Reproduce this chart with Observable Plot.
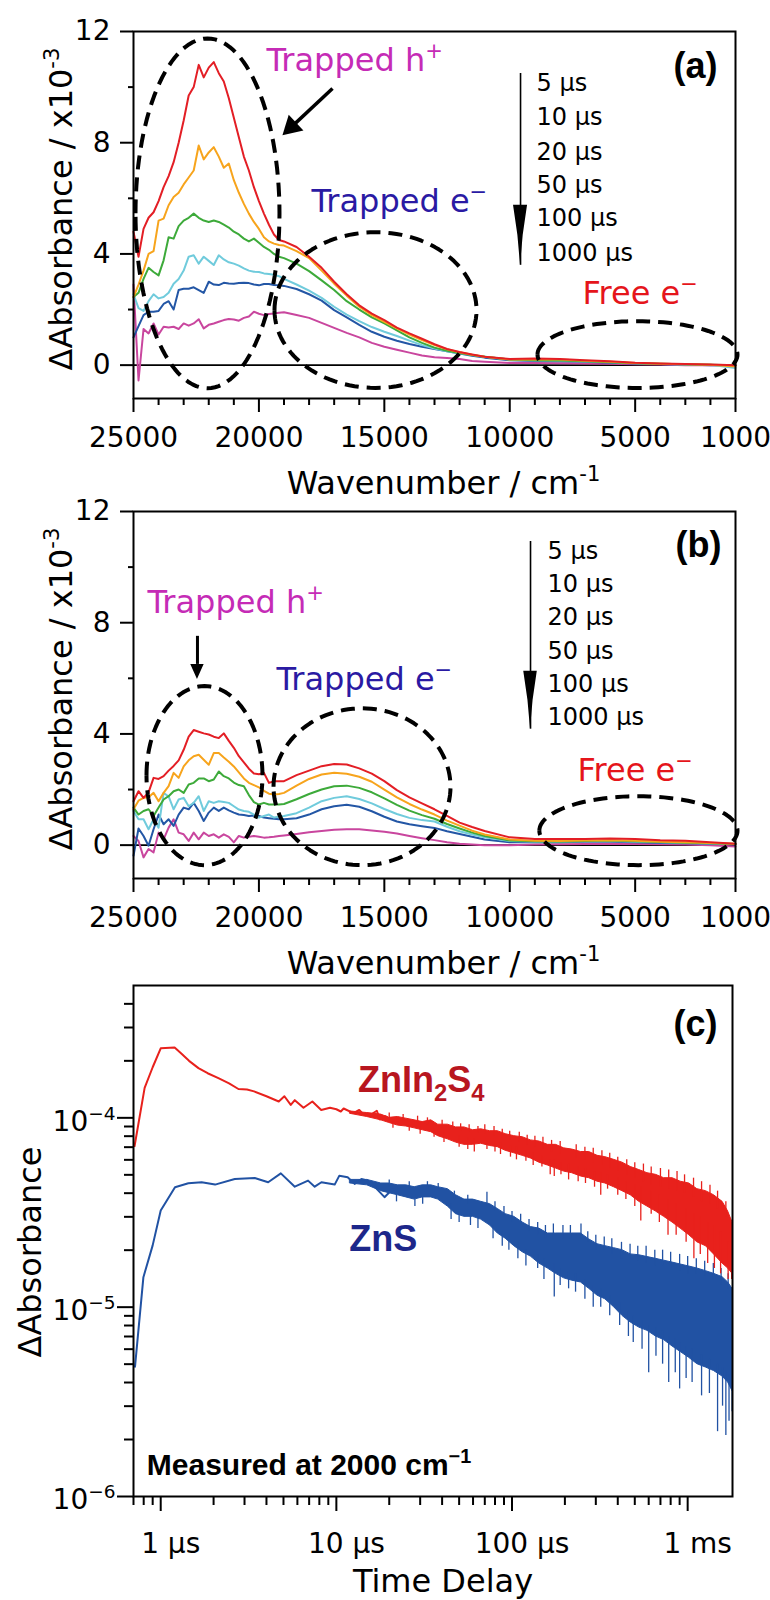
<!DOCTYPE html>
<html><head><meta charset="utf-8">
<script src="https://cdn.jsdelivr.net/npm/d3@7"></script>
<script src="https://cdn.jsdelivr.net/npm/@observablehq/plot@0.6"></script>
<style>
body{margin:0;background:#fff;}
#wrap{position:relative;width:770px;height:1600px;overflow:hidden;background:#fff;}
#wrap svg{position:absolute;left:0;overflow:visible;}
</style></head><body><div id="wrap"></div>
<script>
// ---------- shared axes / categories ----------
const wavenumbers = [25000,24800,24600,24400,24200,24000,23800,23600,23400,23200,23000,22800,22600,22400,22200,22000,21800,21600,21400,21200,21000,20800,20600,20400,20200,20000,19800,19600,19400,19200,19000,
  18500,18000,17500,17000,16500,16000,15500,15000,14500,14000,13500,13000,12500,12000,11500,11000,
  10000,9000,8000,7000,6000,5000,4000,3000,2000,1000];
const delayLabels = ["5 μs","10 μs","20 μs","50 μs","100 μs","1000 μs"];
const delayColors = ["#e31e25","#f7a41c","#3daa3a","#70cbdc","#2356a5","#c9469e"];
const xMajorAB = [25000,20000,15000,10000,5000,1000];
const xMinorAB = [24000,23000,22000,21000,19000,18000,17000,16000,14000,13000,12000,11000,9000,8000,7000,6000,4000,3000,2000];
const yMajorAB = [0,4,8,12];
const yMinorAB = [2,6,10];

// ---------- panel (a): ZnIn2S4 spectra, ΔAbs ×1e-3 ----------
const a5us   = [4.8,3.9,4.9,5.3,5.5,5.9,6.4,6.8,7.3,8.0, 8.8,9.7,10.0,10.8,10.35,10.7,10.9,10.5,10.2,9.6, 8.9,8.2,7.5,7.0,6.4,5.9,5.45,5.05,4.7,4.5, 4.45,
  4.25,3.9,3.5,3.0,2.55,2.15,1.85,1.62,1.35,1.14,0.95,0.75,0.58,0.47,0.38,0.3,
  0.22,0.24,0.22,0.18,0.14,0.09,0.06,0.04,0.02,0.0];
const a10us  = [2.45,2.9,3.4,4.0,4.1,5.2,5.27,5.75,6.05,6.2, 6.5,6.75,7.0,7.9,7.4,7.65,7.84,7.5,7.1,7.25, 6.65,6.2,5.8,5.45,5.15,4.9,4.6,4.45,4.37,4.32, 4.3,
  4.1,3.85,3.4,2.93,2.5,2.1,1.8,1.56,1.32,1.1,0.9,0.72,0.57,0.46,0.37,0.3,
  0.2,0.2,0.2,0.16,0.12,0.08,0.05,0.03,0.01,-0.05];
const a20us  = [2.45,2.6,3.1,3.5,3.35,3.23,3.77,4.6,4.55,5.0, 5.2,5.3,5.45,5.3,5.2,5.15,5.2,5.15,5.05,4.95, 4.8,4.7,4.55,4.45,4.55,4.4,4.25,4.15,4.0,3.9, 3.85,
  3.65,3.38,3.05,2.7,2.3,2.0,1.72,1.5,1.25,1.0,0.8,0.63,0.52,0.44,0.36,0.3,
  0.2,0.18,0.17,0.14,0.1,0.07,0.05,0.03,0.01,0.0];
const a50us  = [2.55,2.05,1.95,2.3,2.55,2.4,2.45,2.6,2.93,3.1, 3.4,3.9,3.95,3.65,3.9,3.75,3.6,3.95,3.8,3.7, 3.65,3.58,3.48,3.4,3.36,3.35,3.3,3.28,3.25,3.2, 3.1,
  2.9,2.68,2.42,2.1,1.82,1.58,1.37,1.2,1.05,0.88,0.72,0.6,0.5,0.43,0.36,0.3,
  0.2,0.17,0.16,0.13,0.1,0.07,0.04,0.02,0.01,-0.1];
const a100us = [1.0,1.4,1.8,1.92,1.92,1.95,2.2,2.3,2.0,2.7, 2.75,2.75,2.8,2.7,2.6,3.0,2.9,2.88,2.96,2.94, 2.93,2.95,2.96,2.95,2.9,2.87,2.92,2.92,2.88,2.87, 2.85,
  2.74,2.55,2.32,1.98,1.72,1.45,1.2,1.02,0.88,0.76,0.66,0.58,0.5,0.42,0.34,0.27,
  0.18,0.15,0.14,0.12,0.09,0.06,0.04,0.02,0.0,0.0];
const a1000us= [2.9,-0.55,1.3,1.14,1.5,1.1,1.38,1.35,1.38,1.3, 1.5,1.42,1.5,1.65,1.32,1.45,1.5,1.56,1.62,1.66, 1.64,1.6,1.7,1.75,1.92,1.85,1.8,1.84,1.86,1.88, 1.9,
  1.8,1.7,1.52,1.34,1.16,1.0,0.8,0.66,0.55,0.45,0.35,0.28,0.26,0.22,0.15,0.12,
  0.08,0.08,0.07,0.06,0.05,0.03,0.02,0.0,0.0,0.0];

// ---------- panel (b): ZnS spectra, ΔAbs ×1e-3 ----------
const b5us   = [1.58,1.94,1.7,1.9,2.42,2.38,2.48,2.68,2.85,3.05, 3.43,3.9,4.14,4.08,4.02,3.98,3.9,3.85,4.02,3.75, 3.5,3.2,2.98,2.75,2.58,2.55,2.6,2.24,2.3,2.3, 2.3,
  2.52,2.68,2.84,2.92,2.9,2.76,2.57,2.3,1.98,1.72,1.5,1.29,1.05,0.81,0.65,0.51,
  0.28,0.22,0.22,0.22,0.24,0.22,0.18,0.16,0.1,0.05];
const b10us  = [1.29,1.6,1.7,1.72,1.88,1.58,1.88,2.12,2.6,2.42, 2.83,3.05,3.2,3.25,3.07,2.89,3.31,3.31,3.15,3.0, 2.83,2.62,2.4,2.24,2.16,2.08,1.95,1.85,1.82,1.84, 1.88,
  2.14,2.38,2.54,2.6,2.57,2.46,2.28,2.0,1.72,1.48,1.28,1.1,0.88,0.7,0.52,0.38,
  0.2,0.16,0.15,0.17,0.18,0.16,0.12,0.1,0.08,0.05];
const b20us  = [1.35,1.1,1.23,1.29,1.05,1.35,1.64,1.76,1.94,2.0, 1.88,2.18,2.24,2.4,2.4,2.3,2.36,2.65,2.48,2.4, 2.25,2.16,2.12,1.8,1.55,1.46,1.52,1.46,1.46,1.46, 1.48,
  1.65,1.84,2.0,2.12,2.14,2.06,1.9,1.68,1.45,1.24,1.08,0.95,0.76,0.6,0.45,0.33,
  0.17,0.14,0.13,0.15,0.17,0.14,0.11,0.09,0.07,0.04];
const b50us  = [1.23,0.93,0.93,0.57,0.93,0.63,1.88,1.75,1.29,1.64, 1.7,1.4,1.52,1.76,1.23,1.58,1.52,1.58,1.55,1.52, 1.4,1.28,1.23,1.2,1.1,0.99,1.05,1.1,0.99,1.02, 1.05,
  1.15,1.35,1.58,1.7,1.76,1.66,1.5,1.3,1.12,0.98,0.9,0.85,0.66,0.5,0.38,0.28,
  0.15,0.12,0.12,0.14,0.15,0.12,0.1,0.08,0.06,0.04];
const b100us = [-0.38,0.6,0.33,-0.02,0.57,1.1,0.75,0.93,0.69,1.1, 1.35,1.29,1.52,1.23,0.87,1.17,1.35,1.23,1.35,1.25, 1.17,1.1,1.08,1.05,1.07,1.05,0.99,0.97,0.95,0.93, 0.93,
  0.97,1.1,1.29,1.4,1.45,1.38,1.22,1.02,0.85,0.75,0.68,0.62,0.5,0.4,0.3,0.2,
  0.1,0.1,0.1,0.12,0.12,0.1,0.08,0.07,0.05,0.03];
const b1000us= [0.33,0.15,-0.44,-0.14,-0.26,0.45,0.21,0.63,0.93,0.45, 0.39,0.15,0.45,0.21,0.45,0.33,0.39,0.27,0.39,0.3, 0.1,0.33,0.27,0.3,0.33,0.3,0.27,0.28,0.3,0.33, 0.35,
  0.4,0.46,0.51,0.55,0.57,0.57,0.53,0.48,0.42,0.33,0.25,0.18,0.1,0.05,0.02,0.0,
  0.0,0.02,0.03,0.04,0.05,0.04,0.03,0.02,0.0,-0.05];

// ---------- panel (a)/(b) annotations (data units) ----------
const speciesLabels = ["Trapped h^{+}","Trapped e^{−}","Free e^{−}"];
const speciesColors = ["#c52bb6","#2a1aa3","#e5151b"];
const speciesPosA = [[19698,10.96],[17904,5.87],[7100,2.57]];
const speciesPosB = [[24442,8.71],[19299,5.96],[7299,2.68]];
const ellipsesA = [[22050,5.46,2870,6.29],[15352,1.98,4027,2.80],[4907,0.38,3987,1.20]];
const ellipsesB = [[22170,2.50,2312,3.22],[15890,2.10,3528,2.82],[4870,0.52,3950,1.24]];
const legendXA = 8933, legendYA = [10.13,8.91,7.65,6.47,5.28,4.02];
const legendXB = 8495, legendYB = [10.56,9.38,8.19,6.97,5.79,4.6];
const timeArrowA = {x:9570, top:10.49, base:5.75, tip:3.59, half:280};
const timeArrowB = {x:9172, top:10.92, base:6.25, tip:4.17, half:270};
const holeArrowA = {x1:17066, y1:9.95, x2:18700, y2:8.57};
const holeArrowB = {x:22450, top:7.51, base:6.5, tip:5.96, half:267};

// ---------- panel (c): decay at 2000 cm-1 (values ×1e-4) ----------
const redEarlyT = [0.71,0.81,0.9,1.0,1.2,1.3,1.45,1.64,1.85,2.13,2.45,2.77,3.1,3.4,4.0,4.7,5.06,5.5,5.8,6.5,7.3,8.2,9.2,10,10.6,11,12.5,13.5,14.3,15.5,17,17.7,19,21,23.4];
const redEarly  = [0.71,1.44,1.85,2.33,2.35,2.2,2.0,1.83,1.72,1.62,1.52,1.42,1.41,1.38,1.3,1.22,1.3,1.17,1.24,1.13,1.22,1.1,1.13,1.11,1.08,1.12,1.06,1.1,1.04,1.03,1.09,0.98,1.02,0.96,0.98];
const blueEarlyT = [0.714,0.797,0.9,1.0,1.206,1.436,1.71,2.04,2.64,3.43,4.09,4.83,5.8,6.9,7.53,8.22,9.78,10.4,11.6,12.7,13.9,15.1,16.5,18.8,20.5,23.4];
const blueEarly  = [0.0485,0.144,0.212,0.324,0.43,0.451,0.457,0.444,0.475,0.481,0.457,0.509,0.433,0.466,0.433,0.457,0.444,0.495,0.485,0.448,0.475,0.466,0.433,0.381,0.413,0.433];
const bandT  = [12,15,18,20,22.4,25,27.9,31,34.7,38,43.1,48,53.6,60,66.7,75,83,92,103,115,128,143,160,178,198,220,247,275,307,340,381,425,474,530,590,660,734,820,912,1020,1135,1270,1412,1580,1700,1800];
const redLo  = [1.05,1.01,0.97,0.94,0.91,0.9,0.88,0.86,0.84,0.8,0.77,0.74,0.72,0.72,0.73,0.71,0.7,0.67,0.65,0.63,0.61,0.58,0.56,0.54,0.52,0.51,0.49,0.48,0.46,0.45,0.43,0.41,0.39,0.36,0.34,0.32,0.3,0.28,0.26,0.24,0.22,0.21,0.19,0.17,0.16,0.15];
const redHi  = [1.08,1.06,1.04,1.0,1.01,0.99,0.97,0.95,0.97,0.92,0.92,0.89,0.89,0.86,0.87,0.85,0.85,0.82,0.8,0.79,0.76,0.75,0.72,0.72,0.69,0.68,0.66,0.66,0.63,0.62,0.6,0.58,0.55,0.53,0.51,0.5,0.48,0.48,0.46,0.45,0.42,0.41,0.39,0.36,0.32,0.28];
const blueLo = [0.45,0.44,0.41,0.40,0.39,0.38,0.37,0.38,0.38,0.37,0.34,0.31,0.30,0.30,0.29,0.27,0.245,0.23,0.21,0.195,0.185,0.17,0.16,0.15,0.142,0.138,0.135,0.125,0.115,0.11,0.10,0.09,0.083,0.078,0.075,0.07,0.067,0.062,0.058,0.054,0.05,0.048,0.046,0.043,0.04,0.036];
const blueHi = [0.47,0.47,0.45,0.45,0.44,0.44,0.43,0.44,0.44,0.43,0.42,0.39,0.37,0.37,0.36,0.35,0.33,0.31,0.30,0.28,0.265,0.26,0.245,0.245,0.245,0.245,0.245,0.228,0.215,0.21,0.205,0.20,0.19,0.188,0.184,0.18,0.176,0.172,0.168,0.164,0.16,0.155,0.15,0.144,0.135,0.125];
// noise spikes [t, from, to] read along both edges of each noisy trace
const redSpikes = [
  [20,0.98,1.06],[24,0.96,1.04],[29,0.94,1.02],[33,0.92,1.0],[40,0.88,0.97],[46,0.86,0.95],[51,0.85,0.93],[57,0.84,0.92],[64,0.83,0.9],[70,0.82,0.92],
  [79,0.8,0.9],[88,0.78,0.87],[97,0.76,0.85],[110,0.74,0.84],[122,0.72,0.81],[135,0.7,0.8],[150,0.68,0.79],[168,0.66,0.76],[188,0.64,0.75],[232,0.61,0.72],
  [260,0.6,0.7],[290,0.58,0.69],[325,0.56,0.67],[360,0.54,0.65],[400,0.52,0.62],[450,0.5,0.6],[500,0.48,0.58],[560,0.46,0.57],[620,0.44,0.55],[700,0.43,0.54],
  [780,0.42,0.53],[870,0.41,0.52],[960,0.4,0.5],[1080,0.38,0.48],[1200,0.36,0.46],[1340,0.35,0.44],[1480,0.33,0.41],[1650,0.3,0.36],
  [21,0.95,0.88],[26,0.92,0.85],[30,0.9,0.82],[36,0.87,0.79],[41,0.83,0.74],[50,0.8,0.7],[56,0.78,0.68],[61,0.77,0.66],[72,0.76,0.68],[80,0.75,0.66],
  [86,0.74,0.64],[98,0.71,0.62],[106,0.7,0.6],[120,0.67,0.59],[132,0.65,0.56],[148,0.63,0.55],[165,0.6,0.5],[174,0.6,0.49],[190,0.58,0.5],[210,0.57,0.47],
  [238,0.55,0.46],[262,0.54,0.45],[295,0.52,0.43],[320,0.51,0.39],[350,0.5,0.42],[400,0.48,0.39],[445,0.46,0.37],[500,0.44,0.34],[541,0.43,0.285],[620,0.41,0.31],
  [690,0.39,0.28],[773,0.37,0.24],[860,0.35,0.24],[980,0.33,0.22],[1085,0.31,0.18],[1180,0.3,0.19],[1300,0.28,0.17],[1420,0.27,0.16],[1540,0.25,0.15],[1700,0.22,0.14],[1780,0.2,0.14]];
const blueSpikes = [
  [20,0.43,0.47],[26,0.42,0.46],[33,0.42,0.46],[38,0.41,0.45],[47,0.37,0.41],[56,0.35,0.39],[72,0.34,0.405],[80,0.32,0.36],[90,0.3,0.34],[100,0.28,0.32],
  [112,0.27,0.31],[125,0.25,0.29],[140,0.24,0.28],[155,0.23,0.27],[172,0.23,0.275],[195,0.23,0.27],[215,0.23,0.27],[247,0.23,0.275],[270,0.22,0.25],[300,0.2,0.24],
  [335,0.2,0.235],[370,0.19,0.23],[420,0.18,0.22],[470,0.18,0.215],[520,0.175,0.21],[580,0.17,0.21],[650,0.165,0.2],[720,0.165,0.2],[800,0.16,0.195],[900,0.155,0.19],
  [1000,0.15,0.185],[1120,0.15,0.18],[1250,0.145,0.175],[1400,0.14,0.17],[1550,0.13,0.16],[1700,0.125,0.15],
  [22,0.39,0.36],[28,0.37,0.34],[31,0.38,0.35],[45,0.35,0.29],[50,0.32,0.28],[58,0.31,0.27],[64,0.3,0.26],[78,0.27,0.23],[88,0.25,0.21],[96,0.24,0.2],
  [108,0.22,0.18],[120,0.2,0.165],[140,0.19,0.16],[152,0.18,0.14],[174,0.17,0.113],[188,0.16,0.13],[210,0.155,0.125],[230,0.15,0.12],[260,0.14,0.11],[290,0.13,0.1],
  [320,0.125,0.1],[360,0.115,0.09],[410,0.105,0.08],[460,0.095,0.07],[490,0.09,0.065],[550,0.085,0.06],[600,0.08,0.045],[660,0.078,0.055],[720,0.075,0.05],[780,0.07,0.04],
  [850,0.068,0.045],[900,0.065,0.037],[980,0.062,0.042],[1060,0.06,0.04],[1200,0.056,0.034],[1330,0.053,0.035],[1480,0.05,0.022],[1580,0.048,0.03],[1650,0.046,0.021],[1720,0.044,0.025],[1790,0.04,0.028]];
const xMajorC = [1,10,100,1000];
const xTickTextC = ["1 μs","10 μs","100 μs","1 ms"];
const xMinorC = [0.7,0.8,0.9,2,3,4,5,6,7,8,9,20,30,40,50,60,70,80,90,200,300,400,500,600,700,800,900];
const yMajorC = [1e-4,1e-5,1e-6];
const yTickTextC = ["10^{−4}","10^{−5}","10^{−6}"];
const yMinorC = [2e-6,3e-6,4e-6,5e-6,6e-6,7e-6,8e-6,9e-6,2e-5,3e-5,4e-5,5e-5,6e-5,7e-5,8e-5,9e-5,2e-4,3e-4,4e-4];
const sampleLabels = ["ZnIn_{2}S_{4}","ZnS"];
const sampleColors = ["#b8161f","#1d278a"];
const samplePos = [[13.3,1.575e-4],[11.85,2.27e-5]];
const noteText = "Measured at 2000 cm^{−1}";
const notePos = [0.833,1.456e-6];

// ---------- helpers ----------
const FONT = "'DejaVu Sans', 'Liberation Sans', sans-serif";
const BOLD = "'Liberation Sans', Arial, sans-serif";
const baseStyle = {fontFamily: FONT, fontSize: "28px", background: "transparent", color: "black", overflow: "visible"};

function ellipsePoints(list) {
  const pts = [];
  list.forEach((e, j) => {
    for (let k = 0; k <= 120; k++) {
      const a = 2 * Math.PI * k / 120;
      pts.push({id: j, x: e[0] + e[2] * Math.cos(a), y: e[1] + e[3] * Math.sin(a)});
    }
  });
  return pts;
}
function headPoints(h, mid) {
  return [
    {y: h.base, x1: h.x - h.half, x2: h.x + h.half},
    {y: (h.base + h.tip) / 2, x1: h.x - h.half * mid, x2: h.x + h.half * mid},
    {y: h.tip, x1: h.x, x2: h.x}
  ];
}
function rich(svg) {
  svg.querySelectorAll("text").forEach(el => {
    const raw = el.textContent;
    if (!/[\^_]\{/.test(raw)) return;
    const fs = parseFloat(getComputedStyle(el).fontSize) || 28;
    while (el.firstChild) el.removeChild(el.firstChild);
    let shift = 0;
    raw.split(/([\^_]\{[^}]*\})/).filter(s => s.length).forEach(part => {
      const t = document.createElementNS("http://www.w3.org/2000/svg", "tspan");
      let target = 0, txt = part;
      if (/^[\^_]\{/.test(part)) {
        txt = part.slice(2, -1);
        target = part[0] === "^" ? -0.4 * fs : 0.24 * fs;
        t.setAttribute("font-size", (0.66 * fs).toFixed(1));
      }
      if (target !== shift) t.setAttribute("dy", (target - shift).toFixed(1));
      shift = target;
      t.textContent = txt;
      el.appendChild(t);
    });
  });
}

function spectraPanel(series, cfg) {
  const rows = [];
  series.forEach((vals, s) => vals.forEach((v, i) => rows.push({w: wavenumbers[i], v, s})));
  const ha = cfg.holeArrow;
  const holeMarks = cfg.diagonal
    ? [Plot.link([ha], {x1: "x1", y1: "y1", x2: "x2", y2: "y2", stroke: "black", strokeWidth: 3.5}),
       Plot.dot([ha], {x: "x2", y: "y2", symbol: "triangle", r: 8, fill: "black", rotate: 227})]
    : [Plot.ruleX([ha], {x: "x", y1: "top", y2: "base", stroke: "black", strokeWidth: 3}),
       Plot.areaX(headPoints(ha, 0.5), {y: "y", x1: "x1", x2: "x2", fill: "black"})];
  return Plot.plot({
    width: 770, height: 500,
    marginTop: 31, marginBottom: 102, marginLeft: 133, marginRight: 35,
    x: {domain: [25000, 1000], label: null},
    y: {domain: [-1.2, 12], label: null},
    style: baseStyle,
    marks: [
      Plot.ruleY([0], {stroke: "black", strokeWidth: 1.6}),
      ...[5,4,3,2,1,0].map(s => Plot.line(rows.filter(r => r.s === s), {x: "w", y: "v", stroke: delayColors[s], strokeWidth: 2})),
      Plot.line(ellipsePoints(cfg.ellipses), {x: "x", y: "y", z: "id", stroke: "black", strokeWidth: 4, strokeDasharray: "14,8", strokeLinecap: "butt"}),
      Plot.ruleX([cfg.timeArrow], {x: "x", y1: "top", y2: "tip", stroke: "black", strokeWidth: 1.6}),
      Plot.areaX(headPoints(cfg.timeArrow, 0.38), {y: "y", x1: "x1", x2: "x2", fill: "black"}),
      ...holeMarks,
      Plot.text(delayLabels, {x: () => cfg.legendX, y: (d, i) => cfg.legendY[i], text: d => d, textAnchor: "start", lineAnchor: "middle", fontSize: 24, fill: "black"}),
      ...speciesLabels.map((lab, i) => Plot.text([lab], {x: () => cfg.speciesPos[i][0], y: () => cfg.speciesPos[i][1], text: d => d, textAnchor: "start", lineAnchor: "middle", fontSize: 32, fill: speciesColors[i]})),
      Plot.text([cfg.tag], {frameAnchor: "top-right", text: d => d, textAnchor: "end", lineAnchor: "middle", dx: cfg.tagDx, dy: cfg.tagDy, fontSize: 36, fontWeight: "bold", fontFamily: BOLD}),
      Plot.text(["ΔAbsorbance / x10^{-3}"], {frameAnchor: "left", text: d => d, rotate: -90, textAnchor: "middle", lineAnchor: "middle", dx: -72, dy: -6, fontSize: 32}),
      Plot.text(["Wavenumber / cm^{-1}"], {frameAnchor: "bottom", text: d => d, textAnchor: "middle", lineAnchor: "middle", dx: 9, dy: 85, fontSize: 32}),
      Plot.axisX(xMajorAB, {tickSize: 14, tickPadding: 15, tickFormat: d => String(d), fontSize: 28, strokeWidth: 2, label: null}),
      Plot.axisX(xMinorAB, {tickSize: 7, tickFormat: () => "", strokeWidth: 2, label: null}),
      Plot.axisY(yMajorAB, {tickSize: 13, tickPadding: 10, tickFormat: d => String(d), fontSize: 28, strokeWidth: 2, label: null}),
      Plot.axisY(yMinorAB, {tickSize: 5, tickFormat: () => "", strokeWidth: 2, label: null}),
      Plot.frame({stroke: "black", strokeWidth: 2})
    ]
  });
}

const svgA = spectraPanel([a5us, a10us, a20us, a50us, a100us, a1000us], {
  ellipses: ellipsesA, timeArrow: timeArrowA, holeArrow: holeArrowA, diagonal: true,
  legendX: legendXA, legendY: legendYA, speciesPos: speciesPosA, tag: "(a)", tagDx: -18, tagDy: 35
});
const svgB = spectraPanel([b5us, b10us, b20us, b50us, b100us, b1000us], {
  ellipses: ellipsesB, timeArrow: timeArrowB, holeArrow: holeArrowB, diagonal: false,
  legendX: legendXB, legendY: legendYB, speciesPos: speciesPosB, tag: "(b)", tagDx: -14, tagDy: 34
});

// ---------- panel (c) ----------
const S = 1e-4;
const redLine = redEarlyT.map((t, i) => ({t, v: redEarly[i] * S}));
const blueLine = blueEarlyT.map((t, i) => ({t, v: blueEarly[i] * S}));
const redBand = bandT.map((t, i) => ({t, lo: redLo[i] * S, hi: redHi[i] * S}));
const blueBand = bandT.map((t, i) => ({t, lo: blueLo[i] * S, hi: blueHi[i] * S}));
const spikeRows = arr => arr.map(d => ({t: d[0], a: d[1] * S, b: d[2] * S}));
const RED = "#e8211c", BLUE = "#2152a3";

const svgC = Plot.plot({
  width: 770, height: 640,
  marginTop: 25, marginBottom: 104, marginLeft: 133, marginRight: 38,
  x: {type: "log", domain: [0.7, 1800], label: null},
  y: {type: "log", domain: [1e-6, 5e-4], label: null},
  style: baseStyle,
  marks: [
    Plot.areaY(blueBand, {x: "t", y1: "lo", y2: "hi", fill: BLUE, stroke: BLUE, strokeWidth: 1}),
    Plot.ruleX(spikeRows(blueSpikes), {x: "t", y1: "a", y2: "b", stroke: BLUE, strokeWidth: 1.3}),
    Plot.line(blueLine, {x: "t", y: "v", stroke: BLUE, strokeWidth: 2}),
    Plot.areaY(redBand, {x: "t", y1: "lo", y2: "hi", fill: RED, stroke: RED, strokeWidth: 1}),
    Plot.ruleX(spikeRows(redSpikes), {x: "t", y1: "a", y2: "b", stroke: RED, strokeWidth: 1.3}),
    Plot.line(redLine, {x: "t", y: "v", stroke: RED, strokeWidth: 2}),
    ...sampleLabels.map((lab, i) => Plot.text([lab], {x: () => samplePos[i][0], y: () => samplePos[i][1], text: d => d, textAnchor: "start", lineAnchor: "middle", fontSize: 36, fontWeight: "bold", fontFamily: BOLD, fill: sampleColors[i]})),
    Plot.text([noteText], {x: () => notePos[0], y: () => notePos[1], text: d => d, textAnchor: "start", lineAnchor: "middle", fontSize: 30, fontWeight: "bold", fontFamily: BOLD, fill: "black"}),
    Plot.text(["(c)"], {frameAnchor: "top-right", text: d => d, textAnchor: "end", lineAnchor: "middle", dx: -15, dy: 39, fontSize: 36, fontWeight: "bold", fontFamily: BOLD}),
    Plot.text(["ΔAbsorbance"], {frameAnchor: "left", text: d => d, rotate: -90, textAnchor: "middle", lineAnchor: "middle", dx: -103, dy: 11, fontSize: 32}),
    Plot.text(["Time Delay"], {frameAnchor: "bottom", text: d => d, textAnchor: "middle", lineAnchor: "middle", dx: 10, dy: 85, fontSize: 32}),
    Plot.text(yMajorC, {y: d => d, frameAnchor: "left", text: (d, i) => yTickTextC[i], textAnchor: "end", lineAnchor: "middle", dx: -18, dy: 4, fontSize: 28}),
    Plot.text(xMajorC, {x: d => d, frameAnchor: "bottom", text: (d, i) => xTickTextC[i], textAnchor: "middle", lineAnchor: "top", dx: 10, dy: 37, fontSize: 28}),
    Plot.axisX(xMajorC, {tickSize: 15, tickFormat: () => "", strokeWidth: 2, label: null}),
    Plot.axisX(xMinorC, {tickSize: 9, tickFormat: () => "", strokeWidth: 2, label: null}),
    Plot.axisY(yMajorC, {tickSize: 16, tickFormat: () => "", strokeWidth: 2, label: null}),
    Plot.axisY(yMinorC, {tickSize: 9, tickFormat: () => "", strokeWidth: 2, label: null}),
    Plot.frame({stroke: "black", strokeWidth: 2})
  ]
});

const wrap = document.getElementById("wrap");
[[svgA, 0], [svgB, 480], [svgC, 960]].forEach(([svg, top]) => {
  svg.style.position = "absolute";
  svg.style.top = top + "px";
  svg.style.left = "0px";
  wrap.appendChild(svg);
  rich(svg);
});
</script></body></html>
